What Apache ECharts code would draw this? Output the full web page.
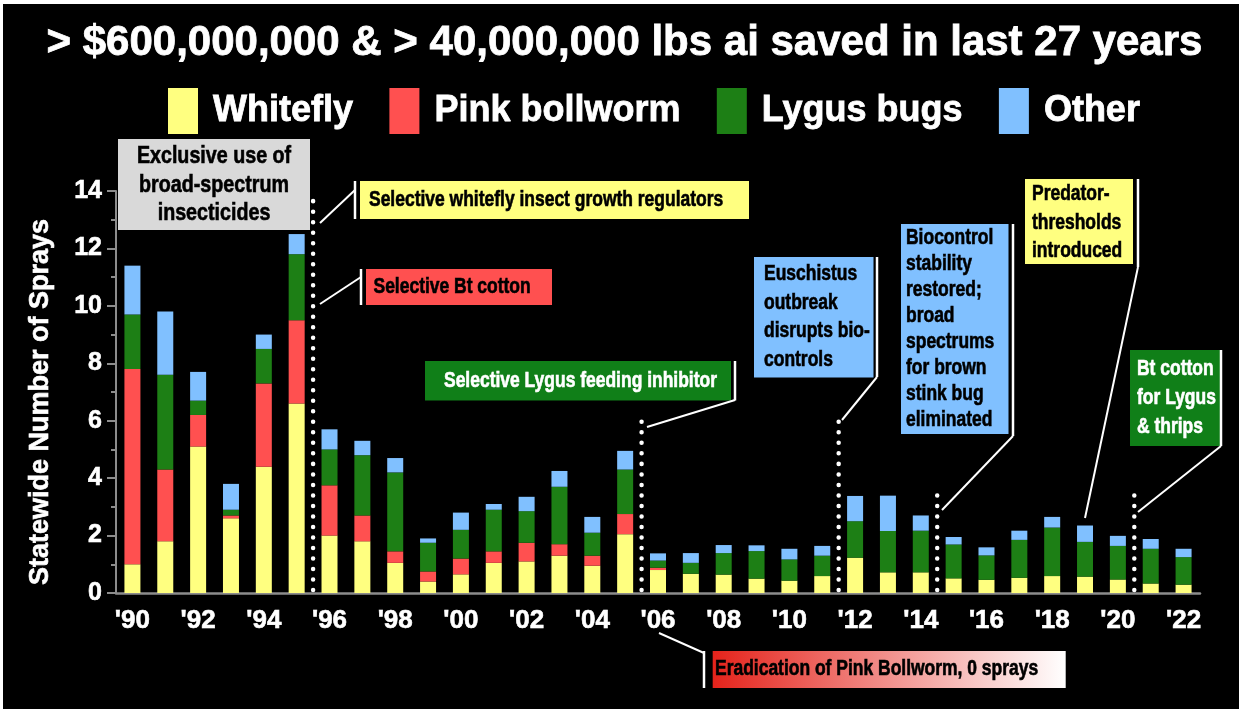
<!DOCTYPE html>
<html>
<head>
<meta charset="utf-8">
<script src="https://cdn.jsdelivr.net/npm/echarts@6/dist/echarts.min.js"></script>
<style>
  html, body { margin: 0; padding: 0; background: #ffffff; }
  #chart { width: 1249px; height: 713px; }
</style>
</head>
<body>
<div id="chart"></div>
<script>
const yearLabels = ["'90", "'91", "'92", "'93", "'94", "'95", "'96", "'97", "'98", "'99",
  "'00", "'01", "'02", "'03", "'04", "'05", "'06", "'07", "'08", "'09", "'10", "'11",
  "'12", "'13", "'14", "'15", "'16", "'17", "'18", "'19", "'20", "'21", "'22"];

const whitefly = [1.0, 1.8, 5.1, 2.6, 4.4, 6.6, 2.0, 1.8, 1.05, 0.4, 0.65, 1.05, 1.1, 1.3, 0.95, 2.05,
  0.8, 0.67, 0.64, 0.5, 0.43, 0.59, 1.23, 0.72, 0.72, 0.51, 0.46, 0.53, 0.59, 0.57, 0.47, 0.33, 0.29];
const pinkBollworm = [6.8, 2.5, 1.1, 0.1, 2.9, 2.9, 1.75, 0.9, 0.4, 0.35, 0.55, 0.4, 0.65, 0.4, 0.35, 0.7,
  0.08, 0, 0, 0, 0, 0, 0, 0, 0, 0, 0, 0, 0, 0, 0, 0, 0];
const lygusBugs = [1.9, 3.3, 0.5, 0.2, 1.2, 2.3, 1.25, 2.1, 2.75, 1.0, 1.0, 1.45, 1.1, 2.0, 0.8, 1.55,
  0.25, 0.38, 0.75, 0.96, 0.74, 0.71, 1.27, 1.44, 1.45, 1.18, 0.85, 1.32, 1.69, 1.21, 1.17, 1.21, 0.96];
const other = [1.7, 2.2, 1.0, 0.9, 0.5, 0.7, 0.7, 0.5, 0.5, 0.15, 0.6, 0.2, 0.5, 0.55, 0.55, 0.65,
  0.25, 0.34, 0.28, 0.2, 0.37, 0.34, 0.88, 1.23, 0.53, 0.26, 0.28, 0.32, 0.37, 0.57, 0.35, 0.34, 0.29];

// events: boundary between categories (index of first year after event) and dotted line height
const eventBoundaries = [6, 16, 22, 25, 31];
const eventTops = [13.75, 6.27, 6.27, 3.5, 3.48];

const seriesNames = ["Whitefly", "Pink bollworm", "Lygus bugs", "Other"];
const colors = ["#ffff80", "#ff5050", "#1d7f15", "#80c0ff"];

const sans = '"Liberation Sans", Arial, sans-serif';

function box(x, y, w, h, fill) {
  return { type: "rect", z: 100, shape: { x: x, y: y, width: w, height: h }, style: { fill: fill } };
}
function wline(x1, y1, x2, y2, w) {
  return { type: "line", z: 100, shape: { x1: x1, y1: y1, x2: x2, y2: y2 },
    style: { stroke: "#ffffff", lineWidth: w || 2 } };
}
// condensed look: regular bold font squeezed horizontally, a thin stroke makes it heavier
function label(x, y, text, color, lh, size, align) {
  return { type: "text", z: 101, x: x, y: y, scaleX: 0.82,
    style: { text: text, fill: color, stroke: color, lineWidth: 0.6,
      font: "bold " + (size || 21.3) + "px " + sans,
      align: align || "left", verticalAlign: "middle", lineHeight: lh || 28 } };
}

const chart = echarts.init(document.getElementById("chart"));

const bars = seriesNames.map((name, i) => ({
  name: name,
  type: "bar",
  stack: "total",
  barWidth: 16,
  itemStyle: { color: colors[i] },
  data: [whitefly, pinkBollworm, lygusBugs, other][i]
}));

chart.setOption({
  backgroundColor: "#ffffff",
  animation: false,
  title: {
    text: "> $600,000,000 & > 40,000,000 lbs ai saved in last 27 years",
    left: "center",
    top: 17,
    textStyle: { color: "#ffffff", fontSize: 42, fontWeight: "bold", fontFamily: sans,
      textBorderColor: "#ffffff", textBorderWidth: 0.8 }
  },
  legend: {
    data: seriesNames,
    left: 163,
    top: 83,
    icon: "rect",
    itemWidth: 30,
    itemHeight: 46,
    itemGap: 36,
    selectedMode: false,
    textStyle: { color: "#ffffff", fontSize: 36, fontWeight: "bold", fontFamily: sans, padding: [0, 0, 0, 10],
      textBorderColor: "#ffffff", textBorderWidth: 0.8 }
  },
  grid: { left: 116, right: 49, top: 191, bottom: 120 },
  xAxis: [
    {
      type: "category",
      data: yearLabels,
      axisLine: { lineStyle: { color: "#8c8c8c", width: 2.5 } },
      axisTick: { interval: 0, length: 10, lineStyle: { color: "#8c8c8c", width: 2 } },
      axisLabel: { interval: 1, color: "#ffffff", fontSize: 26, fontWeight: "bold", fontFamily: sans, margin: 15,
        textBorderColor: "#ffffff", textBorderWidth: 0.6 }
    },
    { type: "value", min: 0, max: 33, show: false }
  ],
  yAxis: {
    type: "value",
    min: 0,
    max: 14,
    interval: 2,
    name: "Statewide Number of Sprays",
    nameLocation: "middle",
    nameGap: 62,
    nameTextStyle: { color: "#ffffff", fontSize: 27, fontWeight: "bold", fontFamily: sans, padding: [0, 20, 0, 0],
      textBorderColor: "#ffffff", textBorderWidth: 0.6 },
    axisLine: { show: true, lineStyle: { color: "#8c8c8c", width: 2 } },
    axisTick: { show: true, length: 9, lineStyle: { color: "#8c8c8c", width: 2 } },
    minorTick: { show: true, splitNumber: 2, length: 5, lineStyle: { color: "#8c8c8c", width: 2 } },
    splitLine: { show: false },
    axisLabel: { color: "#ffffff", fontSize: 25, fontWeight: "bold", fontFamily: sans, margin: 14,
      textBorderColor: "#ffffff", textBorderWidth: 0.6 }
  },
  series: bars.concat([{
    type: "custom",
    xAxisIndex: 1,
    yAxisIndex: 0,
    z: 5,
    encode: { x: 0, y: 1 },
    data: eventBoundaries.map((b, i) => [b, eventTops[i]]),
    renderItem: function (params, api) {
      const p0 = api.coord([api.value(0), 0]);
      const p1 = api.coord([api.value(0), api.value(1)]);
      return {
        type: "line",
        shape: { x1: p0[0], y1: p0[1] - 3, x2: p1[0], y2: p1[1] },
        style: { stroke: "#ffffff", lineWidth: 4.5, lineDash: [0.01, 10.5], lineCap: "round" }
      };
    }
  }]),
  graphic: [
    { type: "rect", z: -10, shape: { x: 3, y: 4, width: 1236, height: 705 }, style: { fill: "#000000" } },

    box(118, 139, 192, 91, "#d9d9d9"),
    label(214, 185, "Exclusive use of\nbroad-spectrum\ninsecticides", "#000000", 28.7, 24, "center"),

    box(360, 181, 389, 38, "#ffff80"),
    wline(355, 181, 355, 219, 2.5),
    wline(355, 190, 320, 223),
    label(369, 200.5, "Selective whitefly insect growth regulators", "#000000"),

    box(366, 269, 186, 36, "#ff5050"),
    wline(361, 269, 361, 305, 2.5),
    wline(361, 277, 320, 304),
    label(373.5, 287, "Selective Bt cotton", "#000000"),

    box(425, 361, 306, 39.5, "#107f18"),
    wline(735, 361, 735, 400.5, 2.5),
    wline(735, 400, 647, 427),
    label(444, 381, "Selective Lygus feeding inhibitor", "#ffffff"),

    box(754, 257, 119.5, 120.5, "#80c0ff"),
    wline(877, 257, 877, 377, 2.5),
    wline(877, 377, 842, 420),
    label(764, 317, "Euschistus\noutbreak\ndisrupts bio-\ncontrols", "#000000", 28.7),

    box(901, 224, 107.5, 210, "#80c0ff"),
    wline(1013, 224, 1013, 436, 2.5),
    wline(1013, 436, 942, 510),
    label(906, 329, "Biocontrol\nstability\nrestored;\nbroad\nspectrums\nfor brown\nstink bug\neliminated", "#000000", 26.1),

    box(1025, 179, 108, 85, "#ffff80"),
    wline(1138, 179, 1138, 267, 2.5),
    wline(1138, 267, 1085, 518),
    label(1032, 222.7, "Predator-\nthresholds\nintroduced", "#000000", 28.5),

    box(1130, 350, 90, 96, "#107f18"),
    wline(1221, 350, 1221, 446, 2.5),
    wline(1221, 446, 1138, 512),
    label(1137, 398.3, "Bt cotton\nfor Lygus\n& thrips", "#ffffff", 29),

    { type: "rect", z: 100, shape: { x: 712.7, y: 651, width: 353, height: 37 },
      style: { fill: new echarts.graphic.LinearGradient(0, 0, 1, 0, [
        { offset: 0, color: "#e5231b" }, { offset: 1, color: "#ffffff" }]) } },
    wline(704, 651, 704, 688, 2.5),
    wline(704, 653, 659, 633),
    label(715, 669, "Eradication of Pink Bollworm, 0 sprays", "#000000")
  ]
});
</script>
</body>
</html>
